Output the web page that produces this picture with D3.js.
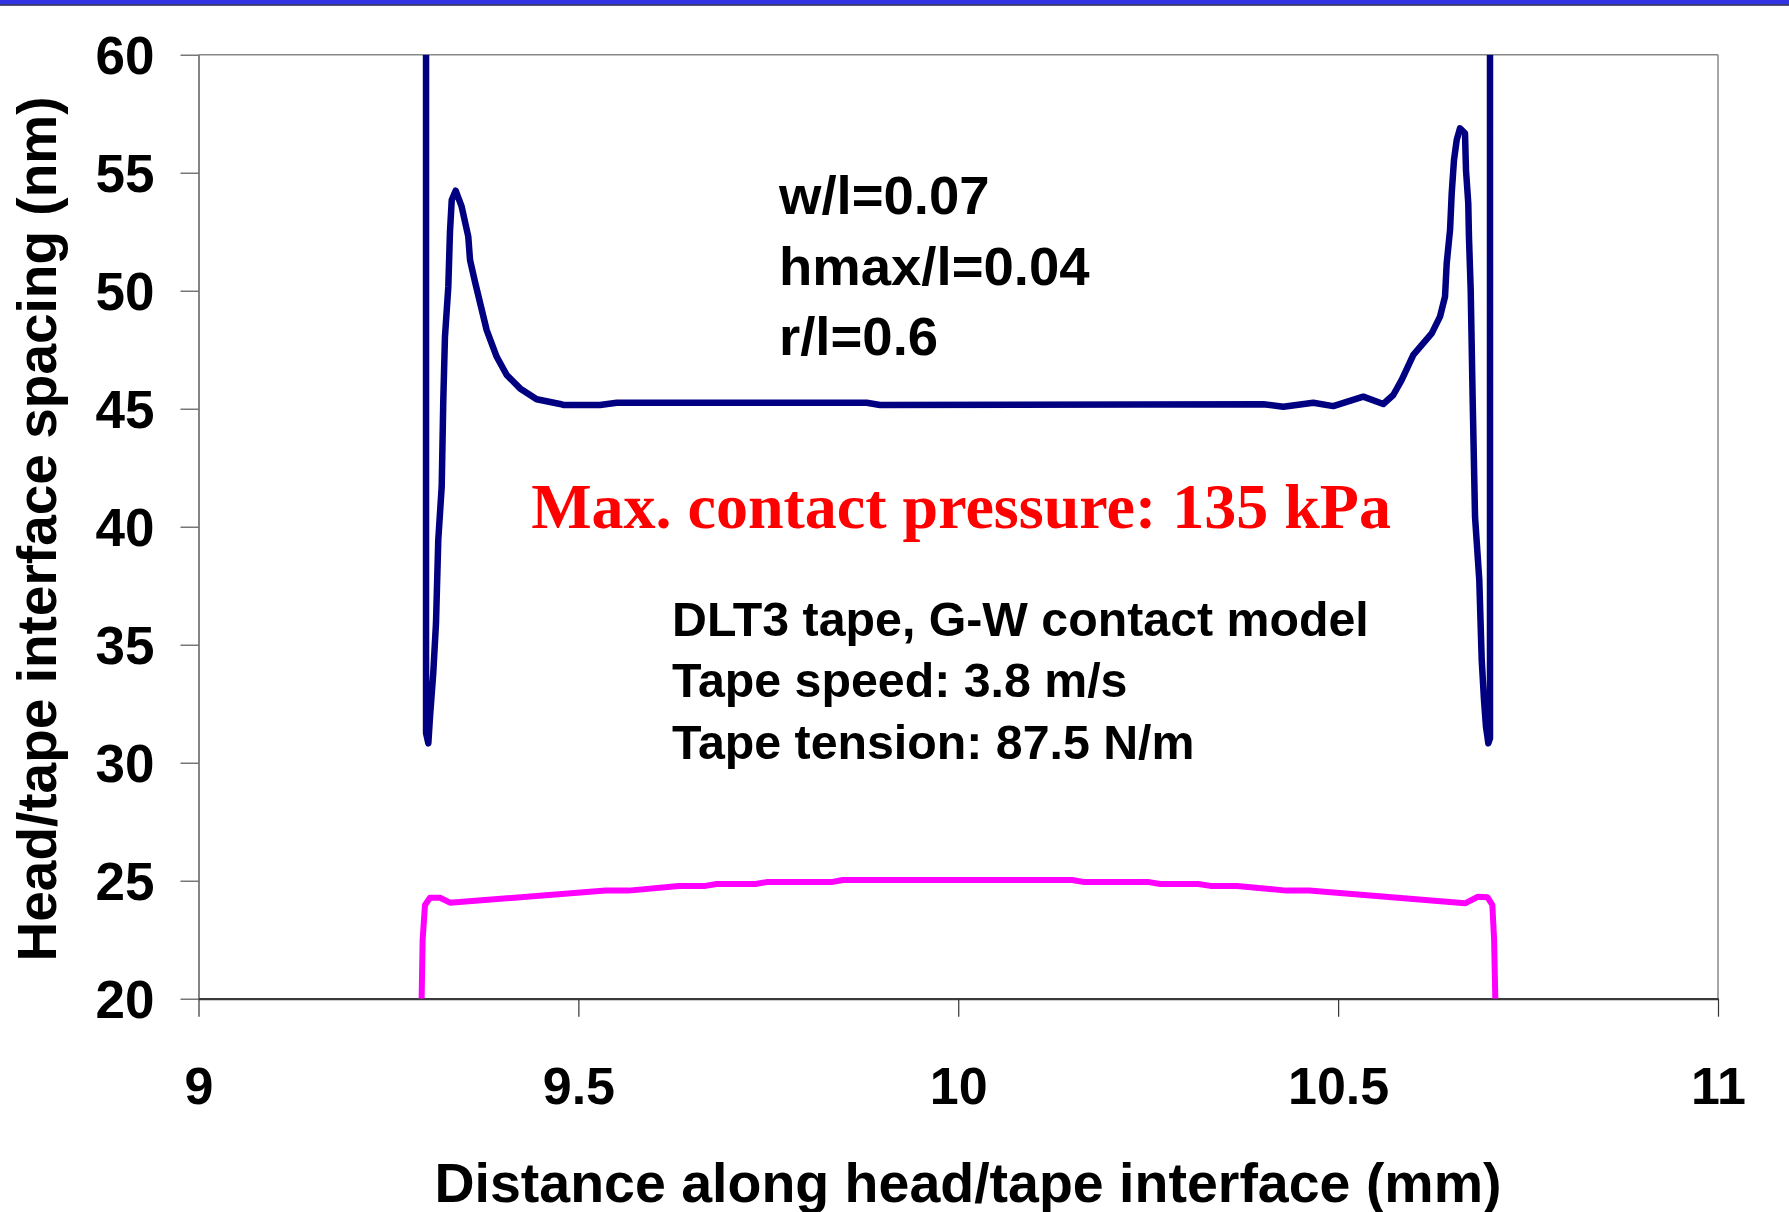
<!DOCTYPE html>
<html>
<head>
<meta charset="utf-8">
<script src="https://cdn.jsdelivr.net/npm/d3@7"></script>
<style>
  body { margin: 0; background: #fff; }
  text { font-family: "Liberation Sans", Arial, sans-serif; font-weight: bold; }
</style>
</head>
<body>
<script>
// spacing profile (blue) and contact pressure profile (pink)
var blueX = [9.2995, 9.2995, 9.3025, 9.3047, 9.3090, 9.3126, 9.3156, 9.3201, 9.3222, 9.3244,
    9.3288, 9.3310, 9.3333, 9.3385, 9.3464, 9.3551, 9.3574, 9.3639, 9.3793, 9.3925,
    9.4057, 9.4232, 9.4451, 9.4758, 9.4801, 9.5285, 9.5505, 9.8795, 9.8970, 10.4015,
    10.4278, 10.4673, 10.4936, 10.5331, 10.5594, 10.5726, 10.5837, 10.599, 10.6232, 10.6341,
    10.6407, 10.6429, 10.6473, 10.6495, 10.6525, 10.6561, 10.6604, 10.6670, 10.6683, 10.6713,
    10.6722, 10.6745, 10.6771, 10.6802, 10.6858, 10.6890, 10.6920, 10.6946, 10.6977, 10.6999, 10.6999];
var blueY = [60, 31.26, 30.82, 31.95, 33.80, 35.92, 39.44, 41.69, 45.37, 48.05,
    50.17, 52.50, 53.84, 54.24, 53.56, 52.29, 51.30, 50.38, 48.33, 47.20,
    46.43, 45.86, 45.40, 45.20, 45.16, 45.16, 45.25, 45.25, 45.16, 45.19,
    45.08, 45.25, 45.11, 45.51, 45.20, 45.58, 46.22, 47.28, 48.19, 48.90,
    49.75, 51.16, 52.57, 54.13, 55.54, 56.39, 56.88, 56.67, 55.11, 53.70,
    52.29, 50.03, 45.37, 40.42, 37.74, 34.35, 32.66, 31.53, 30.82, 31.04, 60];

var pinkX = [9.2937, 9.2950, 9.2981, 9.3047, 9.3179, 9.3310, 9.536, 9.566, 9.632, 9.667,
    9.682, 9.733, 9.748, 9.833, 9.848, 10.150, 10.166, 10.251, 10.266, 10.316,
    10.332, 10.367, 10.432, 10.462, 10.667, 10.684, 10.6965, 10.703, 10.7053, 10.7069];
var pinkY = [20, 22.49, 23.97, 24.28, 24.28, 24.07, 24.58, 24.58, 24.78, 24.78,
    24.86, 24.86, 24.94, 24.94, 25.03, 25.03, 24.94, 24.94, 24.86, 24.86,
    24.78, 24.78, 24.58, 24.58, 24.04, 24.32, 24.30, 23.97, 22.49, 20];

var xTicks = [9, 9.5, 10, 10.5, 11];
var yTicks = [20, 25, 30, 35, 40, 45, 50, 55, 60];

var paramLines = ['w/l=0.07', 'hmax/l=0.04', 'r/l=0.6'];
var caseLines = ['DLT3 tape, G-W contact model', 'Tape speed: 3.8 m/s', 'Tape tension: 87.5 N/m'];
var pressureNote = 'Max. contact pressure: 135 kPa';

window.onload = function(){
    var W = 1789, H = 1212;
    var plotLeft = 198.5, plotRight = 1718, plotTop = 54.7, plotBottom = 998.7;

    var svg = d3.select('body').append('svg')
        .attr('width', W)
        .attr('height', H);

    // blue band along the top edge
    svg.append('rect').attr('x', 0).attr('y', 0).attr('width', W).attr('height', 4.5).attr('fill', '#3333e6');
    svg.append('line').attr('x1', 0).attr('x2', W).attr('y1', 5).attr('y2', 5)
        .attr('stroke', '#1c1c50').attr('stroke-width', 1.5);

    var x = d3.scaleLinear().domain([9, 11]).range([plotLeft, plotRight]);
    var y = d3.scaleLinear().domain([20, 60]).range([plotBottom, plotTop]);

    // frame: top and right in grey
    svg.append('line').attr('x1', plotLeft).attr('x2', plotRight).attr('y1', plotTop).attr('y2', plotTop)
        .attr('stroke', '#888').attr('stroke-width', 1.5);
    svg.append('line').attr('x1', plotRight).attr('x2', plotRight).attr('y1', plotTop).attr('y2', plotBottom)
        .attr('stroke', '#888').attr('stroke-width', 1.5);

    var yAxis = svg.append('g')
        .attr('transform', 'translate(' + plotLeft + ',0)')
        .call(d3.axisLeft(y).tickValues(yTicks).tickSize(18).tickSizeOuter(0).tickPadding(26).tickFormat(d3.format('d')));
    yAxis.select('.domain').attr('stroke', '#333').attr('stroke-width', 1.2);
    yAxis.selectAll('.tick line').attr('stroke', '#555').attr('stroke-width', 1.2);
    yAxis.selectAll('.tick text')
        .style('font-size', '53px').attr('fill', '#000')
        .attr('dy', '0.36em');

    var xAxis = svg.append('g')
        .attr('transform', 'translate(0,' + plotBottom + ')')
        .call(d3.axisBottom(x).tickValues(xTicks).tickSize(18).tickSizeOuter(0).tickFormat(d3.format('')));
    xAxis.select('.domain').attr('stroke', '#3a3a3a').attr('stroke-width', 2.2);
    xAxis.selectAll('.tick line').attr('stroke', '#333').attr('stroke-width', 1.2);
    xAxis.selectAll('.tick text')
        .style('font-size', '52px').attr('fill', '#000')
        .attr('y', 105).attr('dy', null);

    // lines, clipped to the plot box
    svg.append('clipPath').attr('id', 'plot')
        .append('rect').attr('x', plotLeft).attr('y', plotTop)
        .attr('width', plotRight - plotLeft).attr('height', plotBottom - plotTop);

    var line = d3.line()
        .x(function(d){ return x(d[0]); })
        .y(function(d){ return y(d[1]); });

    svg.append('path')
        .datum(d3.zip(pinkX, pinkY))
        .attr('d', line)
        .attr('clip-path', 'url(#plot)')
        .style('fill', 'none').style('stroke', '#ff00ff').style('stroke-width', '6px')
        .style('stroke-linejoin', 'round');

    svg.append('path')
        .datum(d3.zip(blueX, blueY))
        .attr('d', line)
        .attr('clip-path', 'url(#plot)')
        .style('fill', 'none').style('stroke', '#000080').style('stroke-width', '6.5px')
        .style('stroke-linejoin', 'round');

    // axis titles
    svg.append('text')
        .attr('text-anchor', 'middle')
        .attr('x', 968).attr('y', 1202)
        .style('font-size', '55.5px')
        .text('Distance along head/tape interface (mm)');

    svg.append('text')
        .attr('text-anchor', 'middle')
        .attr('transform', 'translate(56,529) rotate(-90)')
        .style('font-size', '55px')
        .text('Head/tape interface spacing (nm)');

    // annotations
    svg.selectAll('.param')
        .data(paramLines)
        .enter()
        .append('text')
        .attr('class', 'param')
        .attr('x', 779)
        .attr('y', function(d, i){ return 214 + i * 70.5; })
        .style('font-size', '54.5px')
        .text(function(d){ return d; });

    svg.append('text')
        .attr('text-anchor', 'middle')
        .attr('x', 961).attr('y', 528)
        .style('font-family', '"Liberation Serif", "Times New Roman", serif')
        .style('font-size', '64px')
        .attr('fill', '#ff0000')
        .text(pressureNote);

    svg.selectAll('.case')
        .data(caseLines)
        .enter()
        .append('text')
        .attr('class', 'case')
        .attr('x', 672)
        .attr('y', function(d, i){ return 635.5 + i * 61.7; })
        .style('font-size', '48.3px')
        .text(function(d){ return d; });
};
</script>
</body>
</html>
